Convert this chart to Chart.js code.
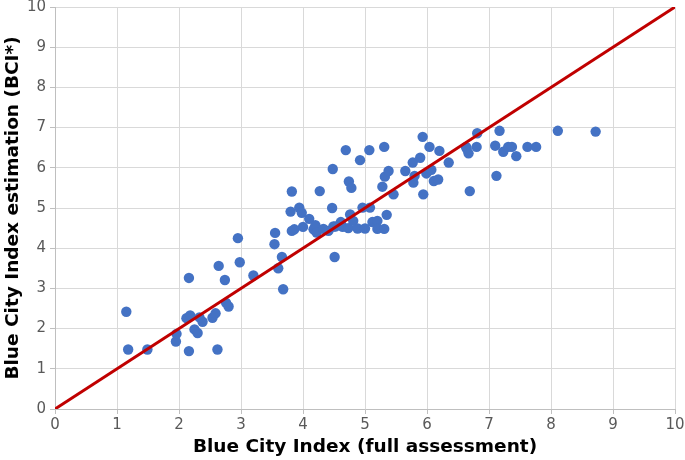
<!DOCTYPE html>
<html>
<head>
<meta charset="utf-8">
<script src="https://cdn.jsdelivr.net/npm/chart.js@4/dist/chart.umd.min.js"></script>
<style>
html,body{margin:0;padding:0;background:#fff;}
#wrap{width:685px;height:460px;position:relative;}
</style>
</head>
<body>
<div id="wrap"><canvas id="c" width="685" height="460"></canvas></div>
<script>
// Blue City Index (full assessment) values
const bciFull = [
  1.15, 1.18, 1.49, 1.95, 1.96, 2.16, 2.12, 2.18, 2.16, 2.25, 2.30, 2.33, 2.38, 2.54, 2.59, 2.62,
  2.64, 2.74, 2.76, 2.80, 2.95, 2.98, 3.20, 3.55, 3.54, 3.60, 3.66, 3.68,
  3.80, 3.82, 3.82, 3.86, 3.94, 3.98, 4.00, 4.10, 4.17, 4.20, 4.22, 4.27, 4.33, 4.41, 4.47, 4.48,
  4.49, 4.51, 4.52, 4.61, 4.64, 4.69, 4.73, 4.74, 4.76, 4.78, 4.81, 4.88, 4.92, 4.96, 5.00,
  5.07, 5.08, 5.12, 5.20, 5.20, 5.28, 5.31, 5.31, 5.32, 5.35, 5.38, 5.46,
  5.65, 5.77, 5.78, 5.80, 5.89, 5.93, 5.94, 5.99, 6.04, 6.07, 6.11, 6.18, 6.20,
  6.35, 6.63, 6.64, 6.67, 6.69, 6.80, 6.81, 7.10, 7.12, 7.17, 7.23, 7.31, 7.37,
  7.44, 7.62, 7.76, 8.11, 8.72
];
// Blue City Index estimation (BCI*) values
const bciEst = [
  2.42, 1.48, 1.48, 1.68, 1.87, 3.26, 2.26, 2.33, 1.44, 1.98, 1.89, 2.28, 2.17, 2.27, 2.38, 1.48,
  3.56, 3.21, 2.64, 2.55, 4.25, 3.65, 3.32, 4.38, 4.10, 3.50, 3.78, 2.98,
  4.91, 5.41, 4.43, 4.47, 5.01, 4.88, 4.53, 4.73, 4.47, 4.57, 4.39, 5.42, 4.48, 4.43, 5.00, 5.97,
  4.54, 3.78, 4.54, 4.65, 4.53, 6.44, 4.50, 5.66, 4.84, 5.50, 4.68, 4.49, 6.19, 5.01, 4.49,
  6.44, 5.01, 4.65, 4.68, 4.48, 5.53, 4.48, 6.52, 5.78, 4.83, 5.92, 5.34,
  5.92, 6.13, 5.63, 5.80, 6.25, 6.77, 5.34, 5.86, 6.52, 5.95, 5.67, 5.71, 6.42,
  6.13, 6.52, 6.48, 6.36, 5.42, 6.52, 6.86, 6.55, 5.80, 6.92, 6.40, 6.52, 6.52,
  6.29, 6.52, 6.52, 6.92, 6.90
];
// 1:1 reference line
const lineX = [0, 10];
const lineY = [0, 10];
const tickValues = [0, 1, 2, 3, 4, 5, 6, 7, 8, 9, 10];

const points = bciFull.map((x, i) => ({x: x, y: bciEst[i]}));
const diag = lineX.map((x, i) => ({x: x, y: lineY[i]}));

new Chart(document.getElementById('c'), {
  type: 'scatter',
  data: {
    datasets: [
      {
        type: 'line',
        data: diag,
        borderColor: '#C00000',
        borderWidth: 3,
        pointRadius: 0,
        fill: false,
        order: 0
      },
      {
        data: points,
        backgroundColor: '#4472C4',
        borderColor: '#4472C4',
        borderWidth: 0,
        pointRadius: 5.2,
        order: 1
      }
    ]
  },
  options: {
    responsive: false,
    animation: false,
    layout: {padding: {left: 2, right: 10, top: 7, bottom: 2}},
    plugins: {legend: {display: false}, tooltip: {enabled: false}},
    scales: {
      x: {
        type: 'linear',
        min: 0, max: 10,
        afterBuildTicks: (a) => { a.ticks = tickValues.map(v => ({value: v})); },
        afterFit: (a) => { a.height = 49; a.paddingRight = 0; a.paddingLeft = 0; },
        ticks: {color: '#595959', font: {family: 'DejaVu Sans', size: 15}, padding: 2},
        grid: {color: '#d9d9d9', lineWidth: 1, tickLength: 5, tickColor: '#bfbfbf'},
        border: {color: '#bfbfbf'},
        title: {display: true, text: 'Blue City Index (full assessment)', color: '#000',
                font: {family: 'DejaVu Sans', size: 18.5, weight: 'bold'}, padding: {top: 2, bottom: 0}}
      },
      y: {
        type: 'linear',
        min: 0, max: 10,
        afterBuildTicks: (a) => { a.ticks = tickValues.map(v => ({value: v})); },
        afterFit: (a) => { a.width = 53; a.paddingTop = 0; a.paddingBottom = 0; },
        ticks: {color: '#595959', font: {family: 'DejaVu Sans', size: 15}, padding: 4},
        grid: {color: '#d9d9d9', lineWidth: 1, tickLength: 5, tickColor: '#bfbfbf'},
        border: {color: '#bfbfbf'},
        title: {display: true, text: 'Blue City Index estimation (BCI*)', color: '#000',
                font: {family: 'DejaVu Sans', size: 18.5, weight: 'bold'}, padding: {top: 0, bottom: 0}}
      }
    }
  }
});
</script>
</body>
</html>
